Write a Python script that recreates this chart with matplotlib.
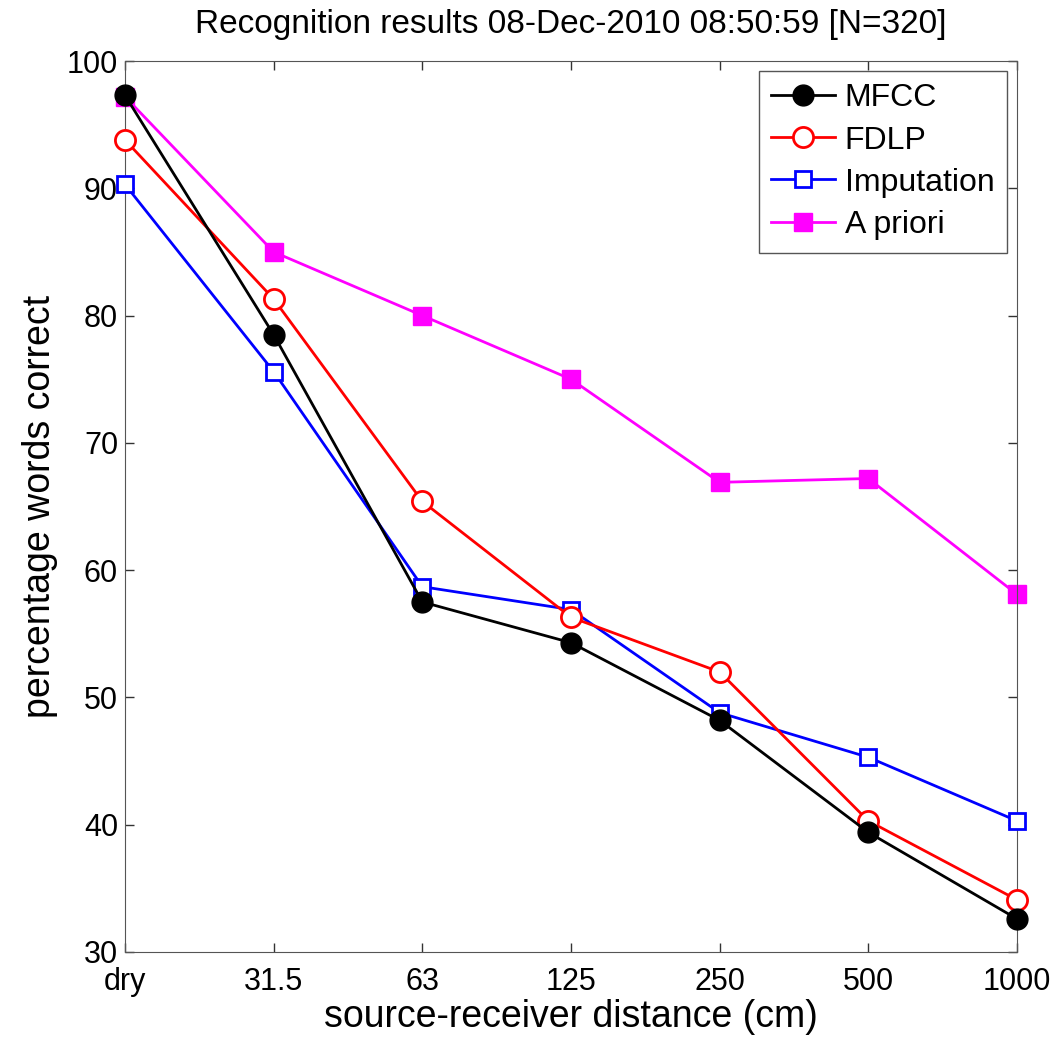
import numpy as np
import matplotlib
matplotlib.use("Agg")
import matplotlib.pyplot as plt

plt.rcParams['font.family'] = ['Liberation Sans', 'DejaVu Sans']

# %% values

distances = ["dry", "31.5", "63", "125", "250", "500", "1000"]
mfcc = [97.3, 78.5, 57.5, 54.3, 48.2, 39.4, 32.6]
fdlp = [93.8, 81.3, 65.4, 56.3, 52.0, 40.3, 34.1]
imputation = [90.3, 75.6, 58.7, 56.9, 48.8, 45.3, 40.3]
a_priori = [97.2, 85.0, 80.0, 75.0, 66.9, 67.2, 58.1]

x = np.arange(len(distances))

fig = plt.figure(figsize=(10.63, 10.45), dpi=100)
ax = fig.add_axes([0.1176, 0.089, 0.8391, 0.8526])

lw = 2
ax.plot(x, a_priori, '-s', color='magenta', lw=lw, ms=12.5, mfc='magenta', mec='magenta',
        label='A priori', zorder=2, clip_on=False)
ax.plot(x, imputation, '-s', color='blue', lw=lw, ms=12, mfc='white', mec='blue', mew=lw,
        label='Imputation', zorder=3, clip_on=False)
ax.plot(x, fdlp, '-o', color='red', lw=lw, ms=14.5, mfc='white', mec='red', mew=lw,
        label='FDLP', zorder=4, clip_on=False)
ax.plot(x, mfcc, '-o', color='black', lw=lw, ms=15, mfc='black', mec='black',
        label='MFCC', zorder=5, clip_on=False)

ax.set_xlim(0, 6)
ax.set_ylim(30, 100)
ax.set_xticks(x)
ax.set_xticklabels(distances)
ax.set_yticks(np.arange(30, 101, 10))
ax.tick_params(direction='in', top=True, right=True, length=6.5, width=1, labelsize=22, color='#333333')
ax.tick_params(axis='x', pad=11)
ax.tick_params(axis='y', pad=5)
for s in ax.spines.values():
    s.set_color('#555555')

ax.set_xlabel('source-receiver distance (cm)', fontsize=27, labelpad=1)
ax.set_ylabel('percentage words correct', fontsize=27, labelpad=6)
ax.set_title('Recognition results 08-Dec-2010 08:50:59 [N=320]', fontsize=24, pad=20)

h, l = ax.get_legend_handles_labels()
leg = ax.legend(h[::-1], l[::-1], loc='upper right', fontsize=23, fancybox=False,
                edgecolor='#555555', handlelength=2.0, borderaxespad=0.3,
                labelspacing=0.38, handletextpad=0.3, borderpad=0.4, framealpha=1)
leg.get_frame().set_linewidth(1)

plt.savefig('out.png', dpi=100)
